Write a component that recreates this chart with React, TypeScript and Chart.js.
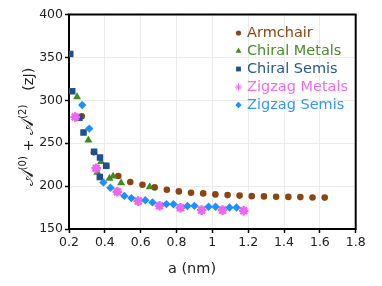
import React, { useEffect, useRef } from 'react';
import { Chart, registerables } from 'chart.js';
import { drawPoint } from 'chart.js/helpers';

Chart.register(...registerables);

// ---- data (a in nm, energy in zJ) ----
const armchairA = [0.271, 0.339, 0.407, 0.475, 0.542, 0.610, 0.678, 0.746, 0.813, 0.881, 0.949, 1.017, 1.085, 1.152, 1.220, 1.288, 1.356, 1.424, 1.491, 1.559, 1.627];
const armchairE = [281.4, 239.5, 223.5, 211.7, 204.7, 201.5, 198.5, 195.8, 193.8, 192.3, 191.5, 190.3, 189.5, 188.9, 188.3, 188.0, 187.6, 187.4, 187.2, 186.8, 186.6];

const chiralMetalsA = [0.245, 0.308, 0.358, 0.379, 0.426, 0.446, 0.491, 0.650];
const chiralMetalsE = [304.0, 253.6, 216.0, 228.3, 209.0, 211.4, 203.7, 199.0];

const chiralSemisA = [0.207, 0.218, 0.258, 0.281, 0.340, 0.372, 0.373, 0.408];
const chiralSemisE = [353.9, 310.6, 279.7, 262.4, 240.0, 210.5, 233.2, 223.8];

const zigzagMetalsA = [0.235, 0.352, 0.470, 0.587, 0.705, 0.822, 0.940, 1.057, 1.175];
const zigzagMetalsE = [280.6, 220.7, 193.5, 182.5, 177.1, 174.7, 172.0, 172.0, 171.3];

const zigzagSemisA = [0.274, 0.313, 0.392, 0.431, 0.509, 0.548, 0.626, 0.666, 0.744, 0.783, 0.861, 0.900, 0.979, 1.018, 1.096, 1.135];
const zigzagSemisE = [294.6, 267.0, 204.3, 198.1, 188.6, 186.0, 183.5, 181.0, 179.0, 178.8, 176.8, 177.0, 176.0, 176.0, 175.1, 175.1];

const seriesNames = ['Armchair', 'Chiral Metals', 'Chiral Semis', 'Zigzag Metals', 'Zigzag Semis'];
const seriesColors = ['#8b4513', '#3e8b1f', '#1f4f8c', '#ee66ee', '#1e8fff'];
const legendTextColors = ['#8b4513', '#4a8c2c', '#28578f', '#f06af0', '#3396ff'];

const xTicks = [0.2, 0.4, 0.6, 0.8, 1.0, 1.2, 1.4, 1.6, 1.8];
const yTicks = [150, 200, 250, 300, 350, 400];

const xTitle = 'a (nm)';
// y title pieces: [text, kind]  kind: 'A' script letter, 'sup' superscript, 'n' normal
const yTitleParts: [string, string][] = [
  ['\u{1D49C}', 'A'],
  ['(0)', 'sup'],
  [' + ', 'n'],
  ['\u{1D49C}', 'A'],
  ['(2)', 'sup'],
  ['   (zJ)', 'n'],
];

const toPts = (xs: number[], ys: number[]) => xs.map((x, i) => ({ x, y: ys[i] }));

export default function App() {
  const ref = useRef<HTMLCanvasElement | null>(null);

  useEffect(() => {
    const canvas = ref.current;
    if (!canvas) return;

    const styles = [
      { pointStyle: 'circle', r: 3.3, bw: 0, lr: 2.6 },
      { pointStyle: 'triangle', r: 4.6, bw: 0, lr: 3.4 },
      { pointStyle: 'rect', r: 4.6, bw: 0, lr: 3.4 },
      { pointStyle: 'star', r: 4.8, bw: 2.5, lr: 3.6 },
      { pointStyle: 'rectRot', r: 4.2, bw: 0, lr: 3.2 },
    ];
    const series = [
      toPts(armchairA, armchairE),
      toPts(chiralMetalsA, chiralMetalsE),
      toPts(chiralSemisA, chiralSemisE),
      toPts(zigzagMetalsA, zigzagMetalsE),
      toPts(zigzagSemisA, zigzagSemisE),
    ];

    const datasets = series.map((data, i) => ({
      label: seriesNames[i],
      data,
      showLine: false,
      pointStyle: styles[i].pointStyle as any,
      pointRadius: styles[i].r,
      pointBorderWidth: styles[i].bw,
      backgroundColor: seriesColors[i],
      borderColor: seriesColors[i],
      order: 5 - i,
    }));

    const fontFor = (kind: string) =>
      kind === 'A' ? '17px "DejaVu Sans", sans-serif'
        : kind === 'sup' ? '10px "DejaVu Sans", sans-serif'
          : '14.5px "DejaVu Sans", sans-serif';

    const framePlugin = {
      id: 'frame',
      beforeDatasetsDraw(chart: any) {
        const { ctx, chartArea: a } = chart;
        ctx.save();
        ctx.strokeStyle = '#000';
        ctx.lineWidth = 2;
        ctx.strokeRect(a.left, a.top, a.right - a.left, a.bottom - a.top);
        ctx.restore();
      },
      afterDraw(chart: any) {
        const { ctx } = chart;
        ctx.save();
        // legend
        ctx.font = '14.5px "DejaVu Sans", sans-serif';
        ctx.textBaseline = 'middle';
        ctx.textAlign = 'left';
        seriesNames.forEach((name, i) => {
          const y = 33 + 18 * i;
          ctx.fillStyle = seriesColors[i];
          ctx.strokeStyle = seriesColors[i];
          drawPoint(ctx, {
            pointStyle: styles[i].pointStyle,
            radius: styles[i].lr,
            rotation: 0,
            borderWidth: styles[i].bw ? 1.6 : 0,
          } as any, 238.5, y);
          ctx.fillStyle = legendTextColors[i];
          ctx.fillText(name, 247, y + 0.5);
        });
        // x title
        ctx.fillStyle = '#222';
        ctx.font = '14.5px "DejaVu Sans", sans-serif';
        ctx.textAlign = 'center';
        ctx.textBaseline = 'middle';
        ctx.fillText(xTitle, 192, 269);
        // y title (rotated, built from pieces)
        ctx.textAlign = 'left';
        ctx.textBaseline = 'alphabetic';
        let total = 0;
        const widths = yTitleParts.map(([t, k]) => {
          ctx.font = fontFor(k);
          const w = ctx.measureText(t).width;
          total += w;
          return w;
        });
        ctx.translate(33, 127 + total / 2);
        ctx.rotate(-Math.PI / 2);
        let xx = 0;
        yTitleParts.forEach(([t, k], i) => {
          ctx.font = fontFor(k);
          ctx.fillText(t, xx, k === 'sup' ? -7 : 0);
          xx += widths[i];
        });
        ctx.restore();
      },
    };

    const chart = new Chart(canvas, {
      type: 'scatter',
      data: { datasets: datasets as any },
      plugins: [framePlugin],
      options: {
        animation: false,
        responsive: true,
        maintainAspectRatio: false,
        layout: { padding: { left: 0, top: 14.5, right: 26.3, bottom: 0 } },
        plugins: { legend: { display: false }, tooltip: { enabled: false } },
        scales: {
          x: {
            type: 'linear',
            min: 0.2,
            max: 1.8,
            afterFit: (s: any) => { s.height = 57; },
            afterBuildTicks: (s: any) => { s.ticks = xTicks.map((v) => ({ value: v })); },
            border: { display: false },
            grid: { color: '#ececec', lineWidth: 1, tickColor: '#000', tickLength: 4, tickWidth: 1.5 },
            ticks: {
              color: '#222',
              padding: 2,
              font: { family: '"DejaVu Sans", sans-serif', size: 12.5 },
              callback: (v: any) => String(Math.round(Number(v) * 10) / 10),
              maxRotation: 0,
            },
          },
          y: {
            type: 'linear',
            min: 150,
            max: 400,
            afterFit: (s: any) => { s.width = 69; },
            afterBuildTicks: (s: any) => { s.ticks = yTicks.map((v) => ({ value: v })); },
            border: { display: false },
            grid: { color: '#ececec', lineWidth: 1, tickColor: '#000', tickLength: 4, tickWidth: 1.5 },
            ticks: {
              color: '#222',
              padding: 2,
              font: { family: '"DejaVu Sans", sans-serif', size: 12.5 },
            },
          },
        },
      },
    });

    return () => chart.destroy();
  }, []);

  return (
    <div style={{ position: 'fixed', left: 0, top: 0, width: 382, height: 286, background: '#fff' }}>
      <canvas ref={ref} />
    </div>
  );
}
